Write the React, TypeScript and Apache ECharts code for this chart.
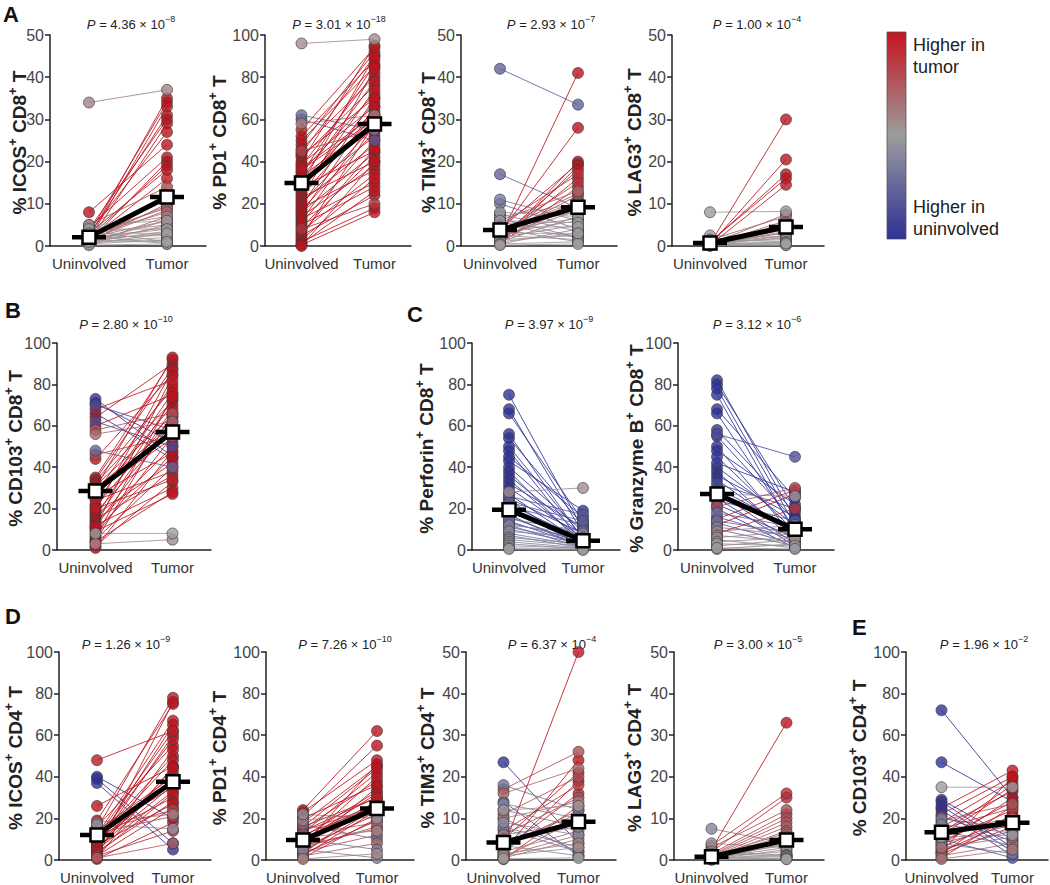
import React, { useEffect, useRef } from "react";
import * as echarts from "echarts";

// ---------------- data ----------------
const categories = ["Uninvolved", "Tumor"];

// each pair = [uninvolved %, tumor %]
const icosCD8 = [[34,37],[8,24],[2,35],[3,34],[1.5,33],[2.5,31],[4,30],[1,29],[3,27],[2,12],[4.5,21],[1,20],[2,19],[3,18],[1.5,16],[5,14],[0.5,12],[2,11],[1,10],[3,9],[1.5,8.5],[2.5,8],[0.5,7],[4,7],[1,6],[2,6],[3,5],[0.5,5],[1.5,4.5],[2,4],[4,4],[1,3.5],[0.5,3],[3,3],[2,2.5],[1,2],[0.5,1.5],[3.5,1],[1.5,1],[0.2,0.5],[2.5,0.5],[5,6],[1,1],[2,9.5],[1.5,3]];
const pd1CD8 = [[96,98],[62,55],[60,50],[58,62],[52,88],[50,85],[48,92],[46,80],[44,90],[43,70],[42,76],[40,95],[39,66],[38,82],[36,60],[35,72],[34,86],[33,58],[32,78],[31,64],[30,56],[29,90],[28,45],[27,68],[26,74],[25,52],[24,62],[23,40],[22,84],[21,48],[20,57],[19,70],[18,36],[17,54],[16,44],[15,66],[14,38],[13,30],[12,60],[11,50],[10,28],[9,42],[8,20],[7,34],[6,46],[5,24],[4,58],[3,32],[2,18],[1,26],[0.5,16],[0,40],[45,55],[37,62],[55,94]];
const tim3CD8 = [[42,33.5],[17,9],[11,6],[10,4],[2,41],[3,28],[1,20],[4,19.5],[0.5,19],[2,18],[5,17],[1.5,16],[3,15],[0.5,14],[6,13],[2.5,12],[1,11],[4,10.5],[7,10],[3.5,9],[2,8.5],[5,8],[8,7],[1,7],[3,6],[6,5.5],[2,5],[4.5,4.5],[0.5,4],[7.5,3.5],[3,3],[1.5,2.5],[5,2],[2.5,1.5],[4,1],[0.2,0.5],[6.5,2],[3.5,12.5],[1,3],[2,9.5],[4,6.5],[0.5,1]];
const lag3CD8 = [[8,8.2],[2.5,2],[0.5,30],[0.3,20.5],[0.8,17],[1,16],[0.2,14.5],[0.5,7.5],[1.5,7],[0.3,6],[0.1,5.5],[0.6,5],[1.2,4.5],[0.4,4],[0.2,3.5],[0.9,3],[0.1,2.5],[0.5,2],[1,1.5],[0.3,1],[0.7,0.8],[0.2,0.5],[0.4,0.3],[1.5,1],[0.1,0.2],[0.6,2.5],[0.3,3.2],[0.8,1.8],[0.2,4.2],[0.5,0.6]];
const cd103CD8 = [[73,45],[71,52],[70,58],[68,82],[66,44],[64,90],[62,50],[60,75],[58,66],[56,62],[48,40],[46,55],[44,85],[35,92],[34,88],[33,78],[32,72],[31,65],[30,60],[29,57],[28,54],[27,80],[26,47],[25,70],[24,38],[22,76],[21,64],[20,34],[19,87],[18,59],[17,42],[16,73],[15,36],[14,68],[13,50],[12,30],[11,62],[10,45],[9,27],[8,8],[7,55],[6,74],[5,40],[4,66],[3,5],[2,33],[1,48],[30,93],[11,84],[4,28]];
const perforinCD8 = [[75,10],[68,8],[66,14],[56,5],[54,12],[50,6],[48,3],[45,16],[43,19],[40,9],[38,2],[36,7],[34,4],[32,11],[30,6],[28,30],[27,3],[25,8],[24,1],[22,5],[21,12],[20,2],[19,4],[18,7],[17,1],[16,3],[15,9],[14,2],[13,5],[12,1],[11,4],[10,3],[9,6],[8,2],[7,1],[6,3],[5,2],[4,1],[3,0.5],[2,1],[1,0.5],[0.5,0],[26,17],[23,14],[12,8]];
const granzymeBCD8 = [[82,15],[80,20],[78,12],[75,8],[68,25],[66,10],[58,18],[56,45],[55,14],[50,6],[48,22],[45,9],[42,28],[40,12],[38,4],[36,16],[34,7],[32,20],[30,10],[28,3],[27,26],[26,9],[25,2],[24,14],[22,6],[21,30],[20,1],[18,11],[16,5],[15,29],[14,8],[13,3],[12,27],[11,7],[10,2],[9,12],[8,20],[7,4],[6,9],[5,1],[4,6],[3,2],[2,5],[1,0.5],[0.5,3]];
const icosCD4 = [[48,62],[40,20],[39,8],[37,5],[26,45],[19,75],[18,22],[16,55],[15,78],[14,40],[13,35],[12,67],[11,30],[10,50],[9,48],[8,38],[7,60],[6,42],[5,33],[4,28],[3,53],[2,25],[1,45],[0.5,18],[17,15],[12,37],[8,65],[6,36],[4,76],[3,32],[2,14],[1,8],[14,24],[10,58],[7,27],[5,44],[9,38],[11,62],[13,21]];
const pd1CD4 = [[24,62],[23,48],[22,20],[21,55],[20,36],[18,45],[17,10],[16,30],[15,38],[14,26],[13,42],[12,18],[11,33],[10,28],[9,24],[8,40],[7,15],[6,22],[5,35],[4,12],[3,29],[2,8],[1,20],[0.5,3],[12,26],[10,5],[8,27],[6,16],[4,25],[2,24],[9,32],[11,14],[7,46],[5,1],[3,19],[14,30],[16,44],[19,23]];
const tim3CD4 = [[23.5,4],[18,12],[17,26],[16,22],[14,1],[13.5,10],[12,8],[11,20],[10,14],[9,6],[7.5,2],[7,18],[6,9],[5,21],[4,11],[3,50],[2.5,16],[2,7],[1.5,19],[1,3],[0.5,5],[0.2,13],[8,3],[6,15],[4.5,9],[3.5,1],[2,24],[1,6],[0.5,10],[12,13],[10,2],[5,8],[3,12],[1.5,4],[0.3,0.5]];
const lag3CD4 = [[7.5,4],[4,3],[3.5,16],[3,12],[2.5,33],[2,15],[1.5,11],[1.2,10],[1,9],[0.8,8],[0.6,7],[0.5,6],[0.4,5.5],[0.3,5],[0.2,4.5],[0.1,4],[1,3.5],[0.5,3],[0.2,2.5],[0.8,2],[0.3,1.5],[1.5,1],[0.4,0.8],[0.1,0.5],[2,1.2],[0.6,0.3],[0.2,0.2],[0.9,6.5],[0.5,1]];
const cd103CD4 = [[72,30],[47,28],[35,35],[29,10],[28,6],[25,43],[24,2],[22,40],[20,15],[18,38],[16,33],[15,25],[14,20],[13,36],[12,18],[11,12],[10,28],[9,24],[8,17],[7,30],[6,21],[5,14],[4,40],[3,16],[2,8],[1,22],[0.5,5],[26,4],[21,9],[17,13],[19,27],[8,3],[6,11],[4,19],[3,26],[12,34],[14,7],[10,1]];

// medians [uninvolved, tumor]
const medians = [[2.1,11.6],[29.9,57.8],[3.8,9.2],[0.7,4.5],[28.5,57],[19.5,4.5],[27,10],[12,37.6],[9.6,24.8],[4.2,9.2],[0.8,4.8],[13.3,17.9]];

// axis titles ("^" marks a superscript)
const axisTitles = ["% ICOS^+ CD8^+ T","% PD1^+ CD8^+ T","% TIM3^+ CD8^+ T","% LAG3^+ CD8^+ T","% CD103^+ CD8^+ T","% Perforin^+ CD8^+ T","% Granzyme B^+ CD8^+ T","% ICOS^+ CD4^+ T","% PD1^+ CD4^+ T","% TIM3^+ CD4^+ T","% LAG3^+ CD4^+ T","% CD103^+ CD4^+ T"];
const pMantissa = ["4.36","3.01","2.93","1.00","2.80","3.97","3.12","1.26","7.26","6.37","3.00","1.96"];
const pExponent = ["−8","−18","−7","−4","−10","−9","−6","−9","−10","−4","−5","−2"];
const yMax = [50,100,50,50,100,100,100,100,100,50,50,100];
const panelLetters = ["A","B","C","D","E"];
const legendTop = ["Higher in", "tumor"];
const legendBottom = ["Higher in", "uninvolved"];

const datasets = [icosCD8, pd1CD8, tim3CD8, lag3CD8, cd103CD8, perforinCD8, granzymeBCD8, icosCD4, pd1CD4, tim3CD4, lag3CD4, cd103CD4];

// ---------------- layout (pixels) ----------------
const layout = [
  { left: 50, top: 35, width: 156, height: 211, titleX: 19, pX: 131, pY: 24 },
  { left: 265, top: 35, width: 146, height: 211, titleX: 219, pX: 339, pY: 24 },
  { left: 461, top: 35, width: 156, height: 211, titleX: 428, pX: 551, pY: 24 },
  { left: 672, top: 35, width: 152, height: 211, titleX: 634, pX: 757, pY: 24 },
  { left: 57, top: 343, width: 154, height: 207, titleX: 15, pX: 126, pY: 324 },
  { left: 472, top: 343, width: 148, height: 207, titleX: 426, pX: 549, pY: 324 },
  { left: 678, top: 343, width: 156, height: 207, titleX: 636, pX: 757, pY: 324 },
  { left: 59, top: 652, width: 152, height: 208, titleX: 15, pX: 126, pY: 644 },
  { left: 266, top: 652, width: 148, height: 208, titleX: 219, pX: 345, pY: 644 },
  { left: 466, top: 652, width: 150, height: 208, titleX: 427, pX: 552, pY: 644 },
  { left: 674, top: 652, width: 150, height: 208, titleX: 634, pX: 758, pY: 644 },
  { left: 906, top: 652, width: 142, height: 208, titleX: 859, pX: 984, pY: 644 },
];
const letterPos = [[3, 14], [5, 310], [407, 314], [5, 616], [852, 627]];

const FONT = '"Liberation Sans", Arial, Helvetica, sans-serif';
const GRAY = [158, 158, 160];
const RED = [188, 20, 30];
const BLUE = [48, 50, 150];
const SAT = 15;

function mix(a: number[], b: number[], t: number) {
  return a.map((v, i) => Math.round(v + (b[i] - v) * t));
}
function changeColor(u: number, t: number) {
  const k = Math.max(-1, Math.min(1, (t - u) / SAT));
  const c = k >= 0 ? mix(GRAY, RED, k) : mix(GRAY, BLUE, -k);
  return `rgb(${c[0]},${c[1]},${c[2]})`;
}
function supRich(s: string) {
  let out = "";
  const parts = s.split("^");
  parts.forEach((p, i) => {
    if (i === 0) { out += `{n|${p}}`; return; }
    out += `{s|${p[0]}}`;
    if (p.length > 1) out += `{n|${p.slice(1)}}`;
  });
  return out;
}

function buildOption() {
  const grid: any[] = [];
  const xAxis: any[] = [];
  const yAxis: any[] = [];
  const series: any[] = [];
  const graphic: any[] = [];

  datasets.forEach((pairs, i) => {
    const L = layout[i];
    grid.push({ left: L.left, top: L.top, width: L.width, height: L.height });
    xAxis.push({
      gridIndex: i, type: "category", data: categories, boundaryGap: true,
      axisLine: { lineStyle: { color: "#222", width: 1.5 } },
      axisTick: { alignWithLabel: true, length: 5, lineStyle: { color: "#222", width: 1.5 } },
      axisLabel: { interval: 0, color: "#333", fontSize: 15, margin: 10, fontFamily: FONT },
    });
    yAxis.push({
      gridIndex: i, type: "value", min: 0, max: yMax[i], interval: yMax[i] / 5,
      axisLine: { show: true, lineStyle: { color: "#222", width: 1.5 } },
      axisTick: { show: true, length: 5, lineStyle: { color: "#222", width: 1.5 } },
      axisLabel: { color: "#444", fontSize: 16, margin: 6, fontFamily: FONT },
      splitLine: { show: false },
    });

    series.push({
      type: "custom", xAxisIndex: i, yAxisIndex: i, z: 1,
      data: pairs.map(([u, t]) => [0, u, 1, t]),
      encode: { x: 0, y: 1 },
      renderItem: (params: any, api: any) => {
        const u = api.value(1), t = api.value(3);
        const p0 = api.coord([0, u]);
        const p1 = api.coord([1, t]);
        return {
          type: "line",
          shape: { x1: p0[0], y1: p0[1], x2: p1[0], y2: p1[1] },
          style: { stroke: changeColor(u, t), lineWidth: 1, opacity: 0.85 },
        };
      },
    });

    const dots: any[] = [];
    pairs.forEach(([u, t]) => {
      const c = changeColor(u, t);
      const w = Math.min(SAT, Math.abs(t - u));
      dots.push({ w, value: [0, u], itemStyle: { color: c } });
      dots.push({ w, value: [1, t], itemStyle: { color: c } });
    });
    // saturated colours first, near-grey dots drawn on top
    dots.sort((a, b) => b.w - a.w);
    series.push({
      type: "scatter", xAxisIndex: i, yAxisIndex: i, z: 2,
      symbolSize: 11,
      itemStyle: { borderColor: "#3a3a3a", borderWidth: 0.8 },
      data: dots.map((d) => ({ value: d.value, itemStyle: d.itemStyle })),
    });

    series.push({
      type: "custom", xAxisIndex: i, yAxisIndex: i, z: 3,
      data: [[0, medians[i][0], 1, medians[i][1]]],
      encode: { x: 0, y: 1 },
      renderItem: (params: any, api: any) => {
        const p0 = api.coord([0, api.value(1)]);
        const p1 = api.coord([1, api.value(3)]);
        const hw = 17, sq = 13;
        return {
          type: "group",
          children: [
            { type: "line", shape: { x1: p0[0], y1: p0[1], x2: p1[0], y2: p1[1] }, style: { stroke: "#000", lineWidth: 5 } },
            { type: "line", shape: { x1: p0[0] - hw, y1: p0[1], x2: p0[0] + hw, y2: p0[1] }, style: { stroke: "#000", lineWidth: 4.5 } },
            { type: "line", shape: { x1: p1[0] - hw, y1: p1[1], x2: p1[0] + hw, y2: p1[1] }, style: { stroke: "#000", lineWidth: 4.5 } },
            { type: "rect", shape: { x: p0[0] - sq / 2, y: p0[1] - sq / 2, width: sq, height: sq }, style: { fill: "#fff", stroke: "#000", lineWidth: 2.5 } },
            { type: "rect", shape: { x: p1[0] - sq / 2, y: p1[1] - sq / 2, width: sq, height: sq }, style: { fill: "#fff", stroke: "#000", lineWidth: 2.5 } },
          ],
        };
      },
    });

    graphic.push({
      type: "text", x: L.titleX, y: L.top + L.height / 2 + 2, rotation: Math.PI / 2,
      style: {
        text: supRich(axisTitles[i]), align: "center", verticalAlign: "middle",
        rich: {
          n: { fontSize: 19, fontWeight: "bold", fontFamily: FONT, fill: "#222", lineHeight: 26 },
          s: { fontSize: 13, fontWeight: "bold", fontFamily: FONT, fill: "#222", verticalAlign: "top" },
        },
      },
    });
    graphic.push({
      type: "text", x: L.pX, y: L.pY,
      style: {
        text: `{i|P}{n| = ${pMantissa[i]} × 10}{s|${pExponent[i]}}`, align: "center", verticalAlign: "middle",
        rich: {
          i: { fontSize: 13, fontStyle: "italic", fontFamily: FONT, fill: "#222", lineHeight: 20 },
          n: { fontSize: 13, fontFamily: FONT, fill: "#222", lineHeight: 20 },
          s: { fontSize: 9, fontFamily: FONT, fill: "#222", verticalAlign: "top" },
        },
      },
    });
  });

  panelLetters.forEach((l, k) => {
    graphic.push({
      type: "text", x: letterPos[k][0], y: letterPos[k][1],
      style: { text: l, fontSize: 22, fontWeight: "bold", fontFamily: FONT, fill: "#111", align: "left", verticalAlign: "middle" },
    });
  });

  graphic.push({
    type: "rect", shape: { x: 887, y: 32, width: 19, height: 207 },
    style: {
      fill: new echarts.graphic.LinearGradient(0, 0, 0, 1, [
        { offset: 0, color: "rgb(196,20,30)" },
        { offset: 0.5, color: "rgb(156,156,158)" },
        { offset: 1, color: "rgb(46,48,150)" },
      ]),
      stroke: "#555", lineWidth: 0.8,
    },
  });
  graphic.push({
    type: "text", x: 913, y: 34,
    style: { text: legendTop.join("\n"), fontSize: 18, lineHeight: 22, fontFamily: FONT, fill: "#222", align: "left", verticalAlign: "top" },
  });
  graphic.push({
    type: "text", x: 913, y: 240,
    style: { text: legendBottom.join("\n"), fontSize: 18, lineHeight: 22, fontFamily: FONT, fill: "#222", align: "left", verticalAlign: "bottom" },
  });

  return {
    animation: false,
    backgroundColor: "#fff",
    textStyle: { fontFamily: FONT },
    grid, xAxis, yAxis, series, graphic,
  };
}

export default function App() {
  const ref = useRef<HTMLDivElement>(null);
  useEffect(() => {
    if (!ref.current) return;
    const chart = echarts.init(ref.current, undefined, { renderer: "svg" });
    chart.setOption(buildOption() as any);
    return () => chart.dispose();
  }, []);
  return (
    <div
      ref={ref}
      style={{ position: "absolute", left: 0, top: 0, width: 1050, height: 885, background: "#fff" }}
    />
  );
}
